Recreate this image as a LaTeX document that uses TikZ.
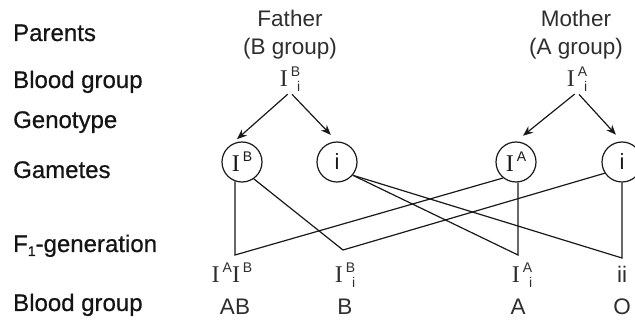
\documentclass[tikz,border=0pt]{standalone}
\usepackage{fontspec}
\setmainfont{Liberation Sans}
\newfontfamily\labfont[FakeBold=0.6]{Liberation Sans}
\newfontfamily\serifI{Liberation Serif}
\usetikzlibrary{arrows.meta}

\newcommand{\bigI}{{\serifI\fontsize{24}{24}\selectfont I}}
\newcommand{\supr}[1]{\kern3pt\raisebox{10pt}{\fontsize{14}{14}\selectfont #1}}
\newcommand{\supsub}[2]{\supr{#1}\llap{\raisebox{-5pt}{\fontsize{14}{14}\selectfont #2}}}

\begin{document}
\begin{tikzpicture}[x=1pt, y=-1pt,
  lab/.style={anchor=base west, inner sep=0pt, font=\labfont\fontsize{24}{28}\selectfont, black!92},
  txt/.style={anchor=base, inner sep=0pt, font=\fontsize{22.5}{26}\selectfont, black!82},
  gam/.style={draw, circle, minimum size=40pt, inner sep=0pt, line width=1.2pt, black!90},
  arr/.style={-{Stealth[length=10pt, width=8pt]}, line width=1.2pt, black!90, shorten <=3pt, shorten >=9pt},
  link/.style={line width=1.2pt, black!90, line join=miter}]
\useasboundingbox (0,0) rectangle (635,320);

% row labels
\node[lab] at (13,41) {Parents};
\node[lab] at (13,88) {Blood group};
\node[lab] at (13,128) {Genotype};
\node[lab] at (13,178) {Gametes};
\node[lab] at (13,252) {F\raisebox{-4pt}{\fontsize{14}{14}\selectfont 1}-generation};
\node[lab] at (13,311) {Blood group};

% parents
\node[txt] at (290,27) (Fa) {Father};
\node[txt] at (290,55) (FaG) {(B group)};
\node[txt] at (290,87) (FG) {\bigI\supsub{B}{i}};
\node[txt] at (576,27) (Mo) {Mother};
\node[txt] at (576,55) (MoG) {(A group)};
\node[txt] at (577,87) (MG) {\bigI\supsub{A}{i}};

% gametes
\node[gam] at (242,162) (IB) {\bigI\supr{B}};
\node[gam, font=\fontsize{22}{26}\selectfont] at (337,162) (Fi) {i};
\node[gam] at (516,162) (IA) {\bigI\supr{A}};
\node[gam, font=\fontsize{22}{26}\selectfont] at (622,162) (Mi) {i};

\draw[arr] (FG.south) -- (IB.125);
\draw[arr] (FG.south) -- (Fi.90);
\draw[arr] (MG.south) -- (IA.90);
\draw[arr] (MG.south) -- (Mi.90);

% crossing
\coordinate (cAB) at (235,255);
\coordinate (cB) at (343,250);
\coordinate (cA) at (518,255);
\coordinate (cO) at (622,258);
\draw[link] (cAB |- IB.250) -- (cAB) -- (IA.231);
\draw[link] (IB.-55) -- (cB) -- (Mi.213);
\draw[link] (Fi.-40) -- (cA) -- (cA |- IA.south);
\draw[link] (Fi.-40) -- (cO) -- (Mi.south);

% F1
\node[txt] at (232,283) (gAB) {\bigI\supr{A}\bigI\supr{B}};
\node[txt] at (345,283) (gB) {\bigI\supsub{B}{i}};
\node[txt] at (522,283) (gA) {\bigI\supsub{A}{i}};
\node[txt] at (622,283) (gO) {ii};

\node[txt] at (235,315) (bAB) {AB};
\node[txt] at (345,315) (bB) {B};
\node[txt] at (518,315) (bA) {A};
\node[txt] at (622,315) (bO) {O};
\end{tikzpicture}
\end{document}
